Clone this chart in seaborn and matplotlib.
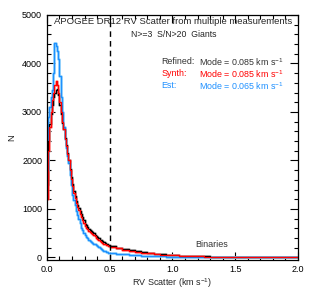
import numpy as np
import pandas as pd
import matplotlib
matplotlib.use("Agg")
import matplotlib.pyplot as plt
import seaborn as sns
from matplotlib.ticker import MultipleLocator

# bin edges: 0.01 wide up to 0.5, then 0.05 wide out to 2.0
edges = np.concatenate([np.arange(0.0, 0.5, 0.01), np.arange(0.5, 2.0001, 0.05)])

refined = [1500, 2400, 2750, 2950, 3150, 3300, 3400, 3450, 3470, 3350,
           3150, 2950, 2780, 2640, 2460, 2310, 2150, 2000, 1830, 1660,
           1510, 1370, 1270, 1170, 1090, 1020, 950, 890, 830, 770,
           700, 660, 620, 590, 560, 540, 515, 495, 470, 445,
           420, 400, 370, 350, 330, 310, 300, 285, 270, 260,
           235, 200, 170, 150, 128, 108, 92, 78, 65, 55,
           46, 39, 33, 28, 24, 21, 18, 16, 14, 13,
           12, 11, 10, 9, 8, 8, 7, 6, 6, 5]

synth = [1200, 2200, 2700, 3000, 3250, 3400, 3550, 3640, 3550, 3400,
         3200, 3000, 2800, 2650, 2450, 2300, 2130, 2000, 1800, 1620,
         1470, 1330, 1230, 1120, 1040, 970, 900, 840, 780, 720,
         650, 610, 580, 550, 520, 500, 480, 460, 440, 410,
         390, 370, 340, 320, 300, 280, 270, 260, 250, 240,
         220, 190, 160, 140, 120, 100, 85, 72, 60, 50,
         42, 36, 30, 26, 22, 19, 17, 15, 13, 12,
         11, 10, 9, 8, 8, 7, 6, 6, 5, 5]

est = [1800, 2900, 3100, 3300, 3450, 3800, 4430, 4350, 4250, 4100,
       3750, 3300, 3000, 2700, 2450, 2250, 2100, 1950, 1700, 1500,
       1290, 1180, 1080, 960, 870, 790, 720, 610, 560, 510,
       470, 430, 400, 370, 340, 320, 300, 285, 270, 250,
       230, 210, 190, 175, 160, 140, 130, 120, 110, 100,
       90, 75, 62, 52, 44, 37, 31, 26, 22, 19,
       16, 14, 12, 10, 9, 8, 7, 6, 6, 5,
       5, 4, 4, 4, 3, 3, 3, 3, 2, 2]

series = [
    ("Refined:", refined, "black", "#a0a0a0", "0.085"),
    ("Synth:", synth, "#ff0000", "#ff9090", "0.085"),
    ("Est:", est, "#1e90ff", "#87cefa", "0.065"),
]

centers = (edges[:-1] + edges[1:]) / 2
bin_list = edges.tolist()

sns.set_style("ticks")
plt.rcParams["font.family"] = ["Liberation Sans", "DejaVu Sans"]
plt.rcParams["mathtext.fontset"] = "custom"
plt.rcParams["mathtext.rm"] = "Liberation Sans"
plt.rcParams["mathtext.default"] = "regular"

fig = plt.figure(figsize=(3.15, 2.93), dpi=100)
ax = fig.add_axes([0.149, 0.113, 0.797, 0.836])

# pale underlays first, then crisp lines: blue, black, red on top
for name, counts, col, pale, mode in series:
    df = pd.DataFrame({"x": centers, "w": counts})
    sns.histplot(data=df, x="x", weights="w", bins=bin_list, element="step",
                 fill=False, color=pale, linewidth=1.8, ax=ax)
for idx in [2, 0, 1]:
    name, counts, col, pale, mode = series[idx]
    df = pd.DataFrame({"x": centers, "w": counts})
    sns.histplot(data=df, x="x", weights="w", bins=bin_list, element="step",
                 fill=False, color=col, linewidth=0.9, ax=ax)

ax.axvline(0.5, color="black", linestyle=(0, (4, 3)), linewidth=1.0)

ax.set_xlim(0, 2.0)
ax.set_ylim(-50, 5000)
ax.set_xticks([0.0, 0.5, 1.0, 1.5, 2.0])
ax.set_xticklabels(["0.0", "0.5", "1.0", "1.5", "2.0"])
ax.set_yticks([0, 1000, 2000, 3000, 4000, 5000])
ax.xaxis.set_minor_locator(MultipleLocator(0.1))
ax.yaxis.set_minor_locator(MultipleLocator(200))
ax.tick_params(which="both", direction="in", top=True, right=True,
               labelsize=6.5, width=0.8, colors="black")
ax.tick_params(which="major", length=6)
ax.tick_params(which="minor", length=3)
for s in ax.spines.values():
    s.set_linewidth(0.9)
    s.set_color("black")

ax.set_xlabel("RV Scatter (km s$^{-1}$)", fontsize=6.5, labelpad=2)
ax.set_ylabel("N", fontsize=6.8, labelpad=4)

ax.text(0.03, 0.972, "APOGEE DR12 RV Scatter from multiple measurements",
        transform=ax.transAxes, fontsize=6.8, va="center", ha="left")
ax.text(0.506, 0.922, "N>=3  S/N>20  Giants", transform=ax.transAxes,
        fontsize=6.3, va="center", ha="center")

rows_y = [0.809, 0.760, 0.710]
for (name, counts, col, pale, mode), yy in zip(series, rows_y):
    c = "#333333" if col == "black" else col
    ax.text(0.457, yy, name, transform=ax.transAxes, color=c,
            fontsize=6.4, va="center", ha="left")
    ax.text(0.607, yy, f"Mode = {mode} km s$^{{-1}}$", transform=ax.transAxes,
            color=c, fontsize=6.4, va="center", ha="left")

ax.text(0.655, 0.061, "Binaries", transform=ax.transAxes, fontsize=6.5,
        va="center", ha="center", color="#333333")

fig.savefig("out.png", dpi=100)
